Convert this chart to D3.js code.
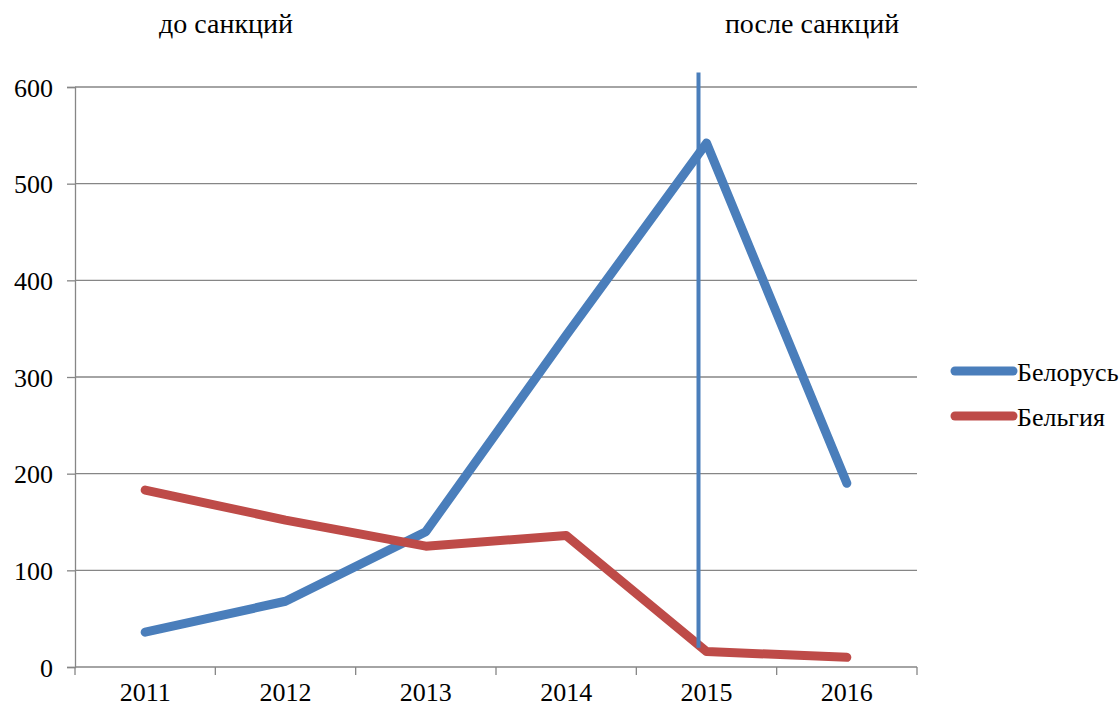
<!DOCTYPE html>
<html>
<head>
<meta charset="utf-8">
<script src="https://cdn.jsdelivr.net/npm/d3@7"></script>
<style>
  body { margin: 0; background: #fff; }
</style>
</head>
<body>
<div id="chart"></div>
<script>
const years = ["2011", "2012", "2013", "2014", "2015", "2016"];
const belarus = [36, 68, 140, 343, 542, 190];
const belgium = [183, 152, 125, 136, 16, 10];
const seriesNames = ["Белорусь", "Бельгия"];
const yTicks = [0, 100, 200, 300, 400, 500, 600];
const periodLabels = ["до санкций", "после санкций"];
// vertical divider marker (value range it spans)
const dividerSpan = [20, 615];

const FONT = "'Liberation Serif', 'DejaVu Serif', serif";
const WIDTH = 1120, HEIGHT = 708;
const MARGIN = { TOP: 87, RIGHT: 203, BOTTOM: 41, LEFT: 75 };
const INNER_WIDTH = WIDTH - MARGIN.LEFT - MARGIN.RIGHT,
    INNER_HEIGHT = HEIGHT - MARGIN.TOP - MARGIN.BOTTOM;

const colors = ["#4a7ebb", "#be4b48"];

const svg = d3.select("#chart").append("svg")
    .attr("width", WIDTH)
    .attr("height", HEIGHT)
    .attr("font-family", FONT);

const g = svg.append("g")
    .attr("transform", `translate(${MARGIN.LEFT}, ${MARGIN.TOP})`);

const xScale = d3.scaleBand().domain(years).range([0, INNER_WIDTH]);
const yScale = d3.scaleLinear().domain([0, 600]).range([INNER_HEIGHT, 0]);
const cx = d => xScale(d) + xScale.bandwidth() / 2;

// gridlines
g.selectAll(".grid")
    .data(yTicks.slice(1))
    .join("line")
    .attr("x1", 0).attr("x2", INNER_WIDTH)
    .attr("y1", d => yScale(d)).attr("y2", d => yScale(d))
    .attr("stroke", "#868686").attr("stroke-width", 1.3);

// y axis
const yAxis = g.append("g")
    .call(d3.axisLeft(yScale).tickValues(yTicks).tickSize(8).tickPadding(14))
    .attr("font-family", FONT)
    .attr("font-size", 26);
yAxis.select(".domain").attr("stroke", "#868686").attr("stroke-width", 1.3);
yAxis.selectAll(".tick line").attr("stroke", "#868686").attr("stroke-width", 1.3);
yAxis.selectAll("text")
    .attr("fill", "#000")
    .attr("dy", "0.35em");

// x axis with ticks at band boundaries
const xg = g.append("g").attr("transform", `translate(0, ${INNER_HEIGHT})`);
xg.append("line")
    .attr("x1", 0).attr("x2", INNER_WIDTH)
    .attr("stroke", "#868686").attr("stroke-width", 1.3);
xg.selectAll(".xtick")
    .data(years.concat(["end"]))
    .join("line")
    .attr("x1", (d, i) => i * xScale.step())
    .attr("x2", (d, i) => i * xScale.step())
    .attr("y1", 0).attr("y2", 8)
    .attr("stroke", "#868686").attr("stroke-width", 1.3);
xg.selectAll(".xlabel")
    .data(years)
    .join("text")
    .attr("x", d => cx(d))
    .attr("y", 34)
    .attr("text-anchor", "middle")
    .attr("font-size", 26)
    .text(d => d);

// series lines
const line = d3.line()
    .x((d, i) => cx(years[i]))
    .y(d => yScale(d));

[belarus, belgium].forEach((s, i) => {
    g.append("path")
        .datum(s)
        .attr("fill", "none")
        .attr("stroke", colors[i])
        .attr("stroke-width", 9)
        .attr("stroke-linejoin", "round")
        .attr("stroke-linecap", "round")
        .attr("d", line);
});

// divider
const divX = cx("2015") - 8;
g.append("line")
    .attr("x1", divX).attr("x2", divX)
    .attr("y1", yScale(dividerSpan[1])).attr("y2", yScale(dividerSpan[0]))
    .attr("stroke", "#4a7ebb")
    .attr("stroke-width", 4);

// period labels
svg.append("text")
    .attr("x", 226).attr("y", 33)
    .attr("text-anchor", "middle")
    .attr("font-size", 28)
    .text(periodLabels[0]);
svg.append("text")
    .attr("x", 812).attr("y", 33)
    .attr("text-anchor", "middle")
    .attr("font-size", 28)
    .text(periodLabels[1]);

// legend
const legend = svg.append("g").attr("transform", "translate(955, 371)");
seriesNames.forEach((name, i) => {
    const row = legend.append("g").attr("transform", `translate(0, ${i * 45})`);
    row.append("line")
        .attr("x1", 0).attr("x2", 58)
        .attr("stroke", colors[i])
        .attr("stroke-width", 9)
        .attr("stroke-linecap", "round");
    row.append("text")
        .attr("x", 62).attr("y", 10)
        .attr("font-size", 26)
        .text(name);
});
</script>
</body>
</html>
